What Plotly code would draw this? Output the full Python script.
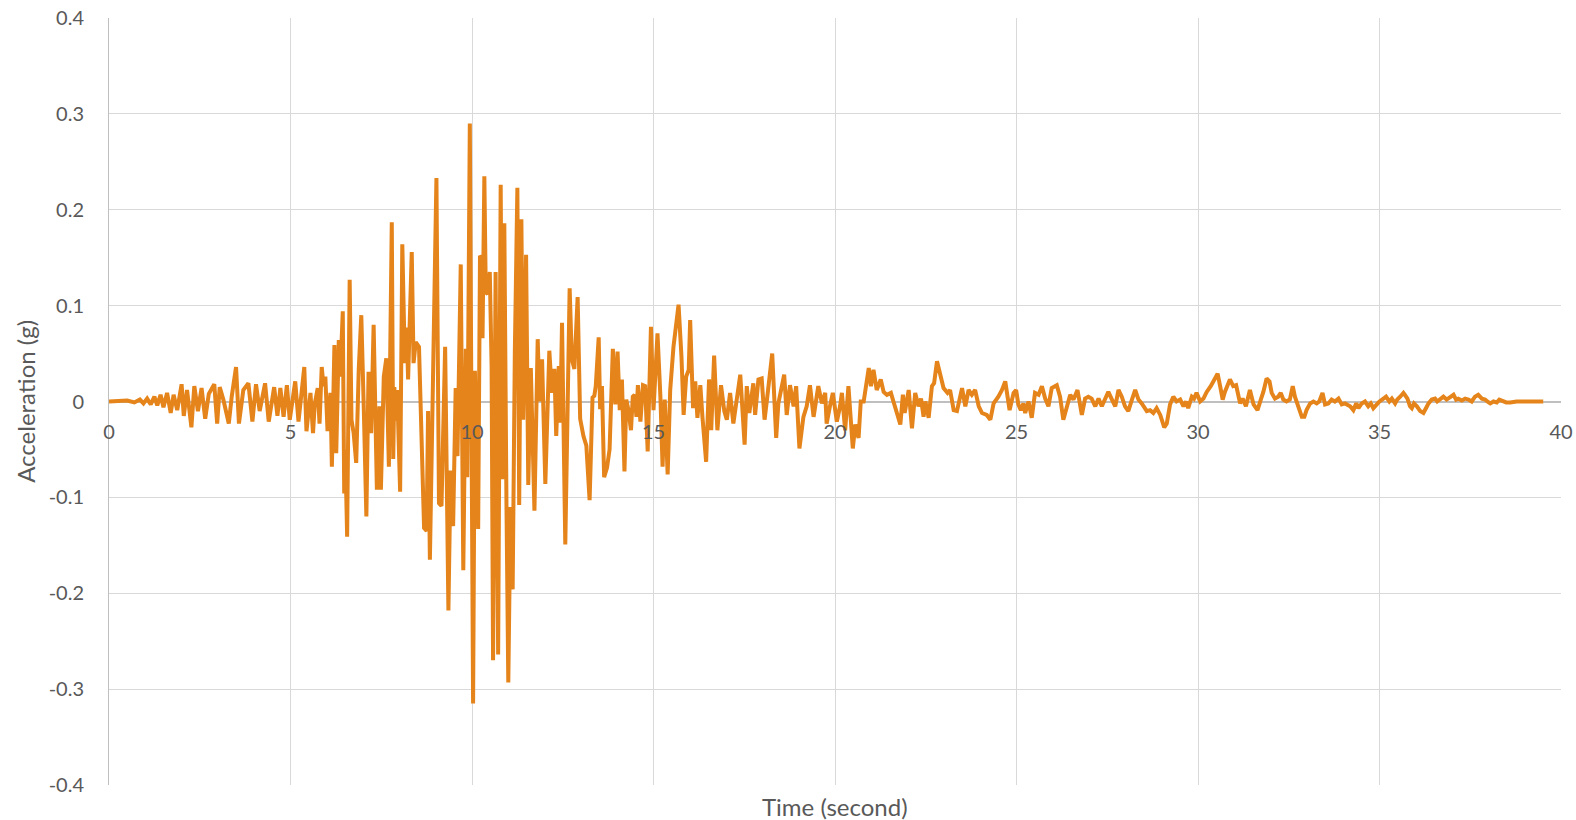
import plotly.graph_objects as go

# ---- Data (time in seconds, acceleration in g) ----
time_early = [0.0, 0.5, 0.7, 0.85, 0.95, 1.05, 1.15, 1.25, 1.33, 1.42, 1.5, 1.6, 1.7, 1.78, 1.88,
              2.0, 2.06, 2.15, 2.27, 2.35, 2.45, 2.55, 2.65, 2.75, 2.9, 2.98, 3.05, 3.15, 3.3,
              3.38, 3.5, 3.58, 3.7, 3.84, 3.95, 4.05, 4.15, 4.3, 4.4, 4.55, 4.64, 4.72]
acc_early = [0.0, 0.001, -0.001, 0.002, -0.002, 0.003, -0.003, 0.005, -0.004, 0.007, -0.006, 0.009,
             -0.012, 0.007, -0.009, 0.018, -0.015, 0.012, -0.027, 0.016, -0.01, 0.014, -0.018, 0.008,
             0.018, -0.023, 0.015, 0.002, -0.023, 0.005, 0.036, -0.023, 0.012, 0.019, -0.021, 0.018,
             -0.01, 0.019, -0.021, 0.015, -0.015, 0.014]

time_strong = [4.81, 4.9, 4.98, 5.13, 5.22, 5.29, 5.38, 5.44, 5.55, 5.62, 5.67, 5.75, 5.8, 5.86,
               5.91, 5.96, 6.02, 6.1, 6.14, 6.21, 6.26, 6.33, 6.37, 6.44, 6.48, 6.51, 6.56, 6.63,
               6.68, 6.74, 6.81, 6.88, 6.95, 7.02, 7.09, 7.15, 7.22, 7.29, 7.38, 7.45, 7.49, 7.57,
               7.64, 7.71, 7.79, 7.83, 7.86, 7.9, 7.94, 8.02, 8.08, 8.15, 8.2, 8.24, 8.34, 8.39,
               8.45, 8.54, 8.61, 8.68, 8.75, 8.79, 8.84, 8.9, 8.94, 9.02, 9.09, 9.16, 9.26, 9.35,
               9.41, 9.48, 9.55, 9.6, 9.69, 9.76, 9.83, 9.87, 9.94, 10.03, 10.08, 10.17, 10.22,
               10.26, 10.29, 10.34, 10.38, 10.43, 10.49, 10.54, 10.58, 10.65, 10.72, 10.79, 10.84,
               10.89, 10.95, 11.0, 11.06, 11.12, 11.18, 11.25, 11.3, 11.36, 11.41, 11.49, 11.55,
               11.62, 11.72, 11.81, 11.86, 11.93, 12.02, 12.13, 12.2, 12.27, 12.32, 12.39, 12.43,
               12.48, 12.57, 12.69, 12.75, 12.82, 12.91, 12.98, 13.07, 13.15, 13.24, 13.32, 13.37,
               13.41, 13.49, 13.53, 13.58, 13.64, 13.72, 13.79, 13.88, 13.95, 14.01, 14.07, 14.13,
               14.2, 14.25, 14.31, 14.38, 14.43, 14.48, 14.53, 14.57, 14.64, 14.71, 14.77, 14.84,
               14.93, 15.0, 15.11, 15.19, 15.25, 15.31, 15.39, 15.46, 15.55, 15.69, 15.77, 15.83,
               15.9, 15.97, 16.01, 16.09, 16.15, 16.21, 16.29, 16.35, 16.45, 16.53, 16.59, 16.67,
               16.76]
acc_strong = [-0.016, 0.017, -0.019, 0.021, -0.021, 0.005, 0.036, -0.031, 0.009, -0.033, -0.002,
              0.014, -0.023, 0.036, 0.016, 0.026, -0.031, 0.009, -0.068, 0.059, -0.054, 0.064,
              0.026, 0.094, -0.096, -0.05, -0.141, 0.127, -0.019, -0.033, -0.064, 0.033, 0.09,
              -0.009, -0.12, 0.031, -0.033, 0.08, -0.092, -0.005, -0.092, 0.026, 0.045, -0.068,
              0.187, -0.06, 0.015, -0.02, 0.012, -0.094, 0.164, 0.04, 0.077, 0.023, 0.156, 0.04,
              0.062, 0.057, -0.031, -0.132, -0.135, -0.01, -0.165, -0.01, 0.08, 0.233, -0.106,
              -0.109, 0.057, -0.218, -0.072, -0.13, 0.014, -0.057, 0.143, -0.176, 0.055, -0.079,
              0.29, -0.315, 0.032, -0.133, 0.152, 0.15, 0.066, 0.235, 0.114, 0.112, 0.135, 0.037,
              -0.27, 0.135, -0.264, 0.226, -0.081, 0.186, -0.108, -0.293, -0.11, -0.196, 0.051,
              0.223, -0.108, 0.19, -0.019, 0.153, -0.087, 0.035, -0.114, 0.065, 0.0, 0.044,
              -0.086, 0.053, 0.009, 0.034, -0.036, 0.037, -0.022, 0.082, -0.149, 0.118, 0.044,
              0.034, 0.109, -0.018, -0.036, -0.046, -0.103, 0.004, 0.006, 0.016, 0.067, -0.008,
              0.016, -0.079, -0.069, -0.05, 0.055, -0.003, 0.052, -0.009, 0.023, -0.073, 0.002,
              -0.009, -0.03, 0.005, 0.007, -0.016, 0.017, -0.021, 0.017, 0.016, -0.052, 0.078,
              -0.009, 0.071, 0.005, -0.068, 0.002, -0.076, 0.012, 0.057, 0.101, 0.047, -0.014,
              0.026, 0.033, 0.085, -0.007, 0.021, -0.017, 0.017, -0.017, -0.063, 0.023, -0.03,
              0.048, -0.03]

time_coda = [16.86, 16.95, 17.02, 17.11, 17.2, 17.25, 17.39, 17.51, 17.57, 17.64, 17.75, 17.8,
             17.89, 17.98, 18.06, 18.12, 18.27, 18.38, 18.44, 18.6, 18.67, 18.76, 18.86, 18.93,
             19.02, 19.13, 19.22, 19.31, 19.41, 19.54, 19.64, 19.73, 19.77, 19.86, 19.94, 20.05,
             20.14, 20.19, 20.28, 20.37, 20.49, 20.56, 20.65, 20.71, 20.79, 20.93, 20.99, 21.06,
             21.15, 21.26, 21.34, 21.43, 21.54, 21.61, 21.71, 21.8, 21.87, 21.92, 22.03, 22.12,
             22.21, 22.3, 22.37, 22.44, 22.49, 22.58, 22.67, 22.73, 22.81, 22.9, 22.99, 23.1,
             23.17, 23.27, 23.36, 23.5, 23.59, 23.68, 23.77, 23.86, 23.96, 24.05, 24.18, 24.28,
             24.37, 24.5, 24.6, 24.69, 24.81, 24.92, 24.99, 25.05, 25.12, 25.19, 25.24, 25.33,
             25.42, 25.51, 25.61, 25.7, 25.79, 25.88, 25.97, 26.11, 26.2, 26.29, 26.39, 26.48,
             26.57, 26.68, 26.8, 26.89, 26.98, 27.07, 27.17, 27.26, 27.35, 27.44, 27.53, 27.63,
             27.72, 27.81, 27.9, 27.99, 28.08, 28.18, 28.27, 28.36, 28.45, 28.59, 28.68, 28.77,
             28.86, 28.96, 29.07, 29.14, 29.23, 29.32, 29.41, 29.51, 29.6, 29.67, 29.73, 29.83,
             29.89, 29.96, 30.06, 30.15, 30.24, 30.35, 30.42, 30.54, 30.61, 30.68, 30.74, 30.88,
             30.97, 31.05, 31.16, 31.23, 31.32, 31.43, 31.53, 31.64, 31.73, 31.8, 31.89, 31.97,
             32.03, 32.12, 32.21, 32.28, 32.35, 32.44, 32.53, 32.61, 32.67, 32.76, 32.86, 32.93,
             32.99, 33.09, 33.18, 33.27, 33.34, 33.43, 33.5, 33.59, 33.68, 33.77, 33.87, 33.96,
             34.05, 34.19, 34.28, 34.36, 34.42, 34.51, 34.6, 34.69, 34.76, 34.83, 34.91, 35.0,
             35.11, 35.18, 35.27, 35.34, 35.43, 35.49, 35.57, 35.66, 35.7, 35.77, 35.84, 35.89,
             35.95, 36.03, 36.12, 36.21, 36.28, 36.35, 36.44, 36.53, 36.59, 36.67, 36.76, 36.85,
             36.94, 37.04, 37.11, 37.17, 37.27, 37.36, 37.45, 37.54, 37.63, 37.72, 37.82, 37.91,
             37.97, 38.05, 38.14, 38.23, 38.3, 38.39, 38.49, 38.6, 38.78, 39.06, 39.33, 39.51]
acc_coda = [0.017, -0.010, -0.019, 0.009, -0.023, -0.009, 0.028, -0.045, 0.016, -0.012, 0.019,
            -0.014, 0.023, 0.024, -0.019, 0.0, 0.05, -0.038, -0.002, 0.028, -0.014, 0.017, -0.005,
            0.016, -0.049, -0.016, -0.005, 0.017, -0.016, 0.016, -0.002, 0.009, -0.023, -0.005,
            0.009, -0.021, -0.005, 0.009, -0.03, 0.016, -0.049, -0.024, -0.038, 0.0, 0.0, 0.035,
            0.016, 0.033, 0.012, 0.023, 0.010, 0.007, 0.009, 0.0, -0.012, -0.024, 0.007, -0.012,
            0.012, -0.028, 0.009, -0.005, 0.003, -0.016, 0.0, -0.017, 0.016, 0.019, 0.042, 0.028,
            0.014, 0.009, 0.012, -0.009, -0.010, 0.014, -0.005, 0.012, 0.007, 0.012, -0.005,
            -0.012, -0.014, -0.019, -0.002, 0.005, 0.012, 0.021, -0.009, 0.009, 0.012, -0.003,
            -0.009, -0.002, -0.012, 0.0, -0.017, 0.009, 0.007, 0.016, 0.003, -0.005, 0.014, 0.017,
            0.005, -0.019, -0.005, 0.007, 0.002, 0.012, -0.014, 0.003, 0.005, 0.003, -0.005, 0.003,
            -0.005, 0.003, 0.01, 0.002, -0.005, 0.012, 0.005, -0.005, -0.01, 0.002, 0.012, 0.002,
            -0.002, -0.01, -0.009, -0.012, -0.007, -0.014, -0.027, -0.023, -0.003, 0.005, 0.0,
            0.002, -0.005, 0.0, -0.007, 0.005, 0.003, 0.009, 0.0, 0.003, 0.010, 0.016, 0.021,
            0.029, 0.016, 0.002, 0.010, 0.023, 0.016, 0.017, -0.002, 0.003, -0.005, 0.012, -0.003,
            -0.009, 0.002, 0.010, 0.024, 0.021, 0.009, 0.003, 0.005, 0.009, 0.002, 0.0, 0.002,
            0.016, 0.005, -0.005, -0.016, -0.016, -0.009, -0.002, 0.0, -0.002, 0.0, 0.009, -0.003,
            -0.002, 0.002, 0.0, 0.003, -0.003, -0.002, -0.005, -0.009, -0.002, -0.007, -0.002,
            0.0, -0.005, -0.002, -0.007, -0.003, 0.0, 0.003, 0.005, 0.0, 0.003, -0.002, 0.002,
            0.005, 0.009, 0.007, 0.003, -0.005, -0.007, -0.002, -0.005, -0.010, -0.012, -0.007,
            -0.002, 0.002, 0.003, 0.0, 0.003, 0.005, 0.002, 0.005, 0.007, 0.002, 0.003, 0.001,
            0.003, 0.002, 0.0, 0.005, 0.007, 0.003, 0.002, 0.0, -0.002, 0.0, -0.001, 0.002, 0.001,
            -0.001, -0.001, 0.0, 0.0, 0.0, 0.0]

x_ticks = [0, 5, 10, 15, 20, 25, 30, 35, 40]
y_ticks = [-0.4, -0.3, -0.2, -0.1, 0, 0.1, 0.2, 0.3, 0.4]
y_tick_labels = ["-0.4", "-0.3", "-0.2", "-0.1", "0", "0.1", "0.2", "0.3", "0.4"]

time_s = time_early + time_strong + time_coda
accel_g = acc_early + acc_strong + acc_coda

FONT = "Lato, 'Open Sans', sans-serif"
TXT = "#595959"
GRID = "#d9d9d9"
AXIS = "#bfbfbf"

fig = go.Figure(
    go.Scatter(x=time_s, y=accel_g, mode="lines",
               line=dict(color="#E5841A", width=4), hoverinfo="x+y")
)

fig.update_layout(
    width=1576, height=820,
    margin=dict(l=109, r=15, t=18, b=35, autoexpand=False),
    paper_bgcolor="white", plot_bgcolor="white",
    showlegend=False,
    font=dict(family=FONT, color=TXT, size=20),
)

fig.update_xaxes(
    range=[0, 40], tickvals=x_ticks, ticktext=[str(v) for v in x_ticks],
    showgrid=True, gridcolor=GRID, gridwidth=1,
    zeroline=False, showline=False, ticks="",
    anchor="free", position=0.5, automargin=False,
    ticklabelstandoff=16,
    tickfont=dict(family=FONT, size=20, color=TXT),
)
fig.update_yaxes(
    range=[-0.4, 0.4], tickvals=y_ticks, ticktext=y_tick_labels,
    showgrid=True, gridcolor=GRID, gridwidth=1,
    zeroline=True, zerolinecolor=AXIS, zerolinewidth=1.5,
    showline=True, linecolor=AXIS, linewidth=1,
    ticks="", automargin=False,
    ticklabelstandoff=20,
    tickfont=dict(family=FONT, size=20, color=TXT),
)

fig.add_annotation(text="Acceleration (g)", xref="paper", yref="paper",
                   x=-0.0576, y=0.5, textangle=-90, showarrow=False,
                   xanchor="center", yanchor="middle",
                   font=dict(family=FONT, size=24, color=TXT))
fig.add_annotation(text="Time (second)", xref="paper", yref="paper",
                   x=0.5, y=-0.0274, showarrow=False,
                   xanchor="center", yanchor="middle",
                   font=dict(family=FONT, size=24, color=TXT))

# Remove the browser's default 8px body margin so the figure fills the window.
fig.write_html(
    "out.html",
    config={"displayModeBar": False},
    post_script="document.body.style.margin='0';document.body.style.overflow='hidden';",
)
